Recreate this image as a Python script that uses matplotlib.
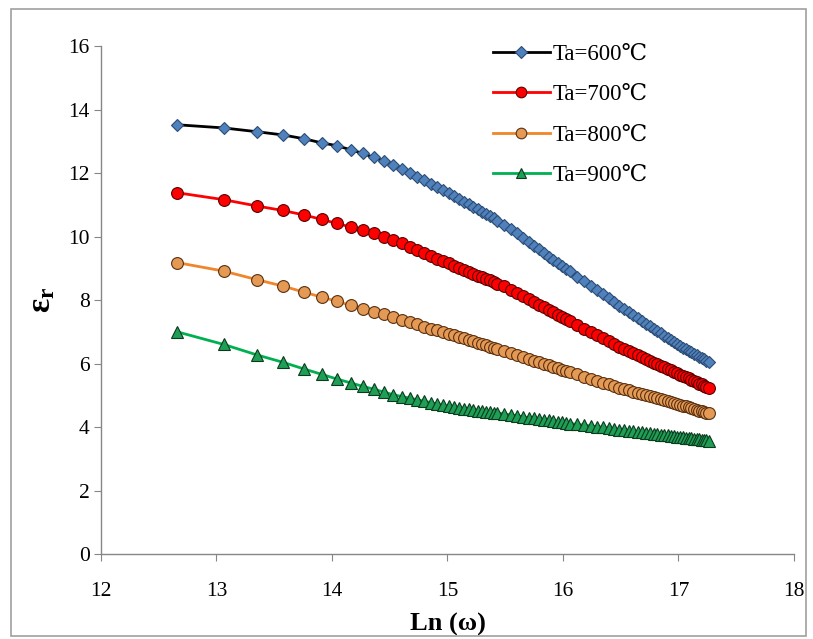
import numpy as np
import matplotlib
matplotlib.use("Agg")
import matplotlib.pyplot as plt
from matplotlib.patches import Rectangle

# frequency in kHz (omega = 2*pi*f)
freq_khz = [50, 75, 100, 125, 150, 175, 200, 225, 250, 275, 300, 325, 350, 375, 400,
            425, 450, 475, 500, 525, 550, 575, 600, 625, 650, 675, 700, 725, 750, 775, 800,
            850, 900, 950, 1000, 1050, 1100, 1150, 1200, 1250, 1300, 1350, 1400, 1450, 1500,
            1600, 1700, 1800, 1900, 2000,
            2100, 2200, 2300, 2400, 2500, 2600, 2700, 2800, 2900, 3000, 3100, 3200,
            3300, 3400, 3500, 3600, 3700, 3800, 3900, 4000, 4100, 4200, 4300, 4400,
            4500, 4600, 4700, 4800, 4900, 5000]

eps_600 = [13.52, 13.42, 13.30, 13.20, 13.08, 12.95, 12.86, 12.73, 12.62, 12.49, 12.38, 12.25,
           12.12, 11.99, 11.88,
           11.77, 11.66, 11.56, 11.47, 11.37, 11.28, 11.19, 11.10, 11.02, 10.94, 10.86, 10.78,
           10.71, 10.64, 10.57, 10.50,
           10.37, 10.23, 10.10, 9.96, 9.83, 9.71, 9.60, 9.48, 9.37, 9.27, 9.17, 9.08, 8.99, 8.90,
           8.74, 8.59, 8.44, 8.30, 8.18,
           8.05, 7.94, 7.82, 7.72, 7.62, 7.53, 7.43, 7.35, 7.26, 7.18, 7.10, 7.02,
           6.95, 6.87, 6.80, 6.73, 6.67, 6.61, 6.55, 6.50, 6.45, 6.40, 6.35, 6.31,
           6.26, 6.22, 6.17, 6.13, 6.09, 6.05]

eps_700 = [11.38, 11.16, 10.96, 10.82, 10.68, 10.54, 10.41, 10.30, 10.20, 10.10, 10.00, 9.89,
           9.78, 9.67, 9.57,
           9.48, 9.39, 9.30, 9.22, 9.15, 9.08, 9.01, 8.95, 8.89, 8.83, 8.77, 8.72,
           8.67, 8.62, 8.57, 8.52,
           8.43, 8.33, 8.23, 8.13, 8.03, 7.94, 7.85, 7.77, 7.69, 7.61, 7.54, 7.47, 7.40, 7.34,
           7.21, 7.10, 6.99, 6.89, 6.79,
           6.70, 6.61, 6.52, 6.45, 6.39, 6.32, 6.26, 6.20, 6.14, 6.09, 6.03, 5.98,
           5.93, 5.88, 5.83, 5.79, 5.74, 5.70, 5.65, 5.61, 5.57, 5.53, 5.49, 5.45,
           5.41, 5.37, 5.34, 5.30, 5.26, 5.23]

eps_800 = [9.18, 8.91, 8.64, 8.44, 8.25, 8.09, 7.96, 7.83, 7.72, 7.63, 7.55, 7.47,
           7.38, 7.30, 7.23,
           7.16, 7.09, 7.04, 7.00, 6.94, 6.89, 6.84, 6.79, 6.75, 6.70, 6.66, 6.61,
           6.57, 6.53, 6.50, 6.46,
           6.39, 6.32, 6.26, 6.20, 6.14, 6.09, 6.04, 5.99, 5.94, 5.90, 5.85, 5.81, 5.77, 5.73,
           5.66, 5.59, 5.52, 5.46, 5.40,
           5.34, 5.29, 5.24, 5.19, 5.15, 5.11, 5.07, 5.04, 5.00, 4.97, 4.93, 4.90,
           4.87, 4.84, 4.81, 4.78, 4.76, 4.73, 4.70, 4.67, 4.65, 4.62, 4.59, 4.57,
           4.54, 4.52, 4.50, 4.47, 4.45, 4.43]

eps_900 = [7.00, 6.60, 6.27, 6.04, 5.83, 5.66, 5.51, 5.39, 5.28, 5.19, 5.10, 5.02,
           4.96, 4.91, 4.86,
           4.81, 4.77, 4.72, 4.68, 4.65, 4.62, 4.60, 4.58, 4.56, 4.54, 4.52, 4.50,
           4.48, 4.47, 4.45, 4.44,
           4.41, 4.38, 4.35, 4.32, 4.29, 4.27, 4.25, 4.23, 4.21, 4.19, 4.17, 4.15, 4.13, 4.11,
           4.08, 4.06, 4.03, 4.01, 3.99,
           3.96, 3.94, 3.92, 3.90, 3.89, 3.87, 3.85, 3.84, 3.82, 3.81, 3.79, 3.78,
           3.76, 3.75, 3.74, 3.72, 3.71, 3.70, 3.69, 3.68, 3.66, 3.65, 3.64, 3.63,
           3.62, 3.61, 3.60, 3.59, 3.58, 3.57]

labels = ["Ta=600℃", "Ta=700℃", "Ta=800℃", "Ta=900℃"]

x = np.log(2 * np.pi * np.array(freq_khz) * 1e3)

serif = ["Liberation Serif", "DejaVu Serif"]
plt.rcParams['font.family'] = serif
plt.rcParams['mathtext.fontset'] = 'custom'
plt.rcParams['mathtext.rm'] = 'Liberation Serif'
plt.rcParams['mathtext.bf'] = 'Liberation Serif:bold'
plt.rcParams['mathtext.it'] = 'Liberation Serif:italic'

fig = plt.figure(figsize=(8.13, 6.39), dpi=100)
ax = fig.add_axes([0.1242, 0.133, 0.8524, 0.795])

styles = [
    dict(color="black", marker="D", ms=6.5, mfc="#4F81BD", mec="#2C4D75", mew=0.8),
    dict(color="#FF0000", marker="o", ms=8.5, mfc="#FF0000", mec="#5A0000", mew=0.8),
    dict(color="#F0852A", marker="o", ms=8.5, mfc="#E49A55", mec="#5A3010", mew=0.8),
    dict(color="#00B050", marker="^", ms=8.5, mfc="#1F9E55", mec="#0B3A1E", mew=0.8),
]
series = [eps_600, eps_700, eps_800, eps_900]
for y, lab, st in zip(series, labels, styles):
    ax.plot(x, y, lw=2, label=lab, **st)

ax.set_xlim(12, 18)
ax.set_ylim(0, 16)
ax.set_xticks(range(12, 19))
ax.set_yticks(range(0, 17, 2))
for s in ["top", "right"]:
    ax.spines[s].set_visible(False)
for s in ["left", "bottom"]:
    ax.spines[s].set_color("#868686")
    ax.spines[s].set_linewidth(1.0)
ax.tick_params(direction="out", length=5, color="#868686", labelsize=15.5)
ax.tick_params(axis="x", pad=15)
ax.tick_params(axis="y", pad=3)

ax.set_xlabel("Ln (ω)", fontsize=19, fontweight="bold", labelpad=9)
ax.set_ylabel(r"$\mathbf{\varepsilon_r}$", fontsize=24, labelpad=8)

leg = ax.legend(loc="upper left", bbox_to_anchor=(0.552, 1.022), frameon=False,
                fontsize=16.5, handlelength=2.5, labelspacing=0.84, handletextpad=0.1,
                borderaxespad=0.0, markerscale=0.9)

fig.patches.append(Rectangle((11 / 813, 3 / 639), 795 / 813, 627 / 639,
                             transform=fig.transFigure, fill=False,
                             edgecolor="#A0A0A0", lw=1.2))

fig.savefig("out.png", dpi=100)
